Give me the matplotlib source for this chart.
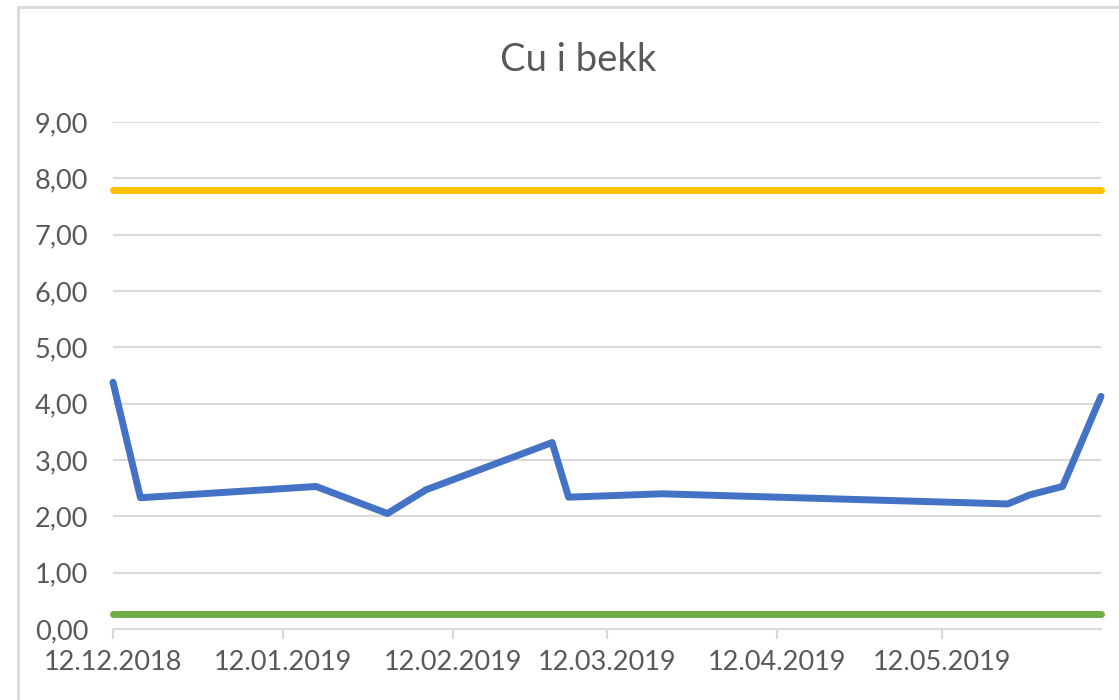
import pandas as pd
import matplotlib
matplotlib.use('Agg')
import matplotlib.pyplot as plt
import matplotlib.dates as mdates
from matplotlib.ticker import FuncFormatter
from matplotlib.patches import Rectangle

# data
dates = ['12.12.2018', '17.12.2018', '18.01.2019', '31.01.2019', '07.02.2019',
         '02.03.2019', '05.03.2019', '22.03.2019', '24.05.2019', '28.05.2019',
         '03.06.2019', '10.06.2019']
cu = [4.38, 2.33, 2.53, 2.05, 2.47, 3.31, 2.34, 2.40, 2.22, 2.38, 2.53, 4.13]
upper_limit = 7.80
lower_limit = 0.27

x = pd.to_datetime(dates, format='%d.%m.%Y')

plt.rcParams['font.family'] = ['Lato', 'DejaVu Sans']
grey_text = '#595959'
grey_line = '#d9d9d9'

fig = plt.figure(figsize=(11.19, 7.0), dpi=100)
ax = fig.add_axes([113 / 1119, 71 / 700, (1101 - 113) / 1119, (629 - 122) / 700])

# chart frame (only top/left visible in the crop)
fig.patches.append(Rectangle((18 / 1119, -0.1), 1.2, (700 - 7) / 700 + 0.1,
                             transform=fig.transFigure, fill=False,
                             edgecolor=grey_line, linewidth=2))

ax.plot(x, cu, color='#4472C4', linewidth=5, solid_capstyle='round',
        solid_joinstyle='round', zorder=3)
ax.plot([x[0], x[-1]], [upper_limit, upper_limit], color='#FFC000', linewidth=5,
        solid_capstyle='round', zorder=3)
ax.plot([x[0], x[-1]], [lower_limit, lower_limit], color='#70AD47', linewidth=5,
        solid_capstyle='round', zorder=3)

ax.set_xlim(x[0], x[-1])
ax.set_ylim(0, 9)
ax.set_yticks(range(0, 10))
ax.yaxis.set_major_formatter(FuncFormatter(lambda v, pos: f'{v:.2f}'.replace('.', ',')))
ax.xaxis.set_major_locator(mdates.MonthLocator(bymonthday=12))
ax.xaxis.set_major_formatter(mdates.DateFormatter('%d.%m.%Y'))

ax.grid(axis='y', color=grey_line, linewidth=1.5)
ax.set_axisbelow(True)
for s in ['top', 'right', 'left']:
    ax.spines[s].set_visible(False)
ax.spines['bottom'].set_color(grey_line)
ax.spines['bottom'].set_linewidth(1.5)
ax.spines['bottom'].set_zorder(1)

ax.tick_params(axis='y', length=0, pad=18, labelsize=19.5, labelcolor=grey_text)
ax.tick_params(axis='x', length=7, width=1.5, color=grey_line, pad=8,
               labelsize=19.5, labelcolor=grey_text)
for line in ax.lines:
    line.set_clip_on(False)

fig.text(578 / 1119, 1 - 60 / 700, 'Cu i bekk', ha='center', va='center',
         fontsize=27.5, color=grey_text)

fig.savefig('out.png', dpi=100)
